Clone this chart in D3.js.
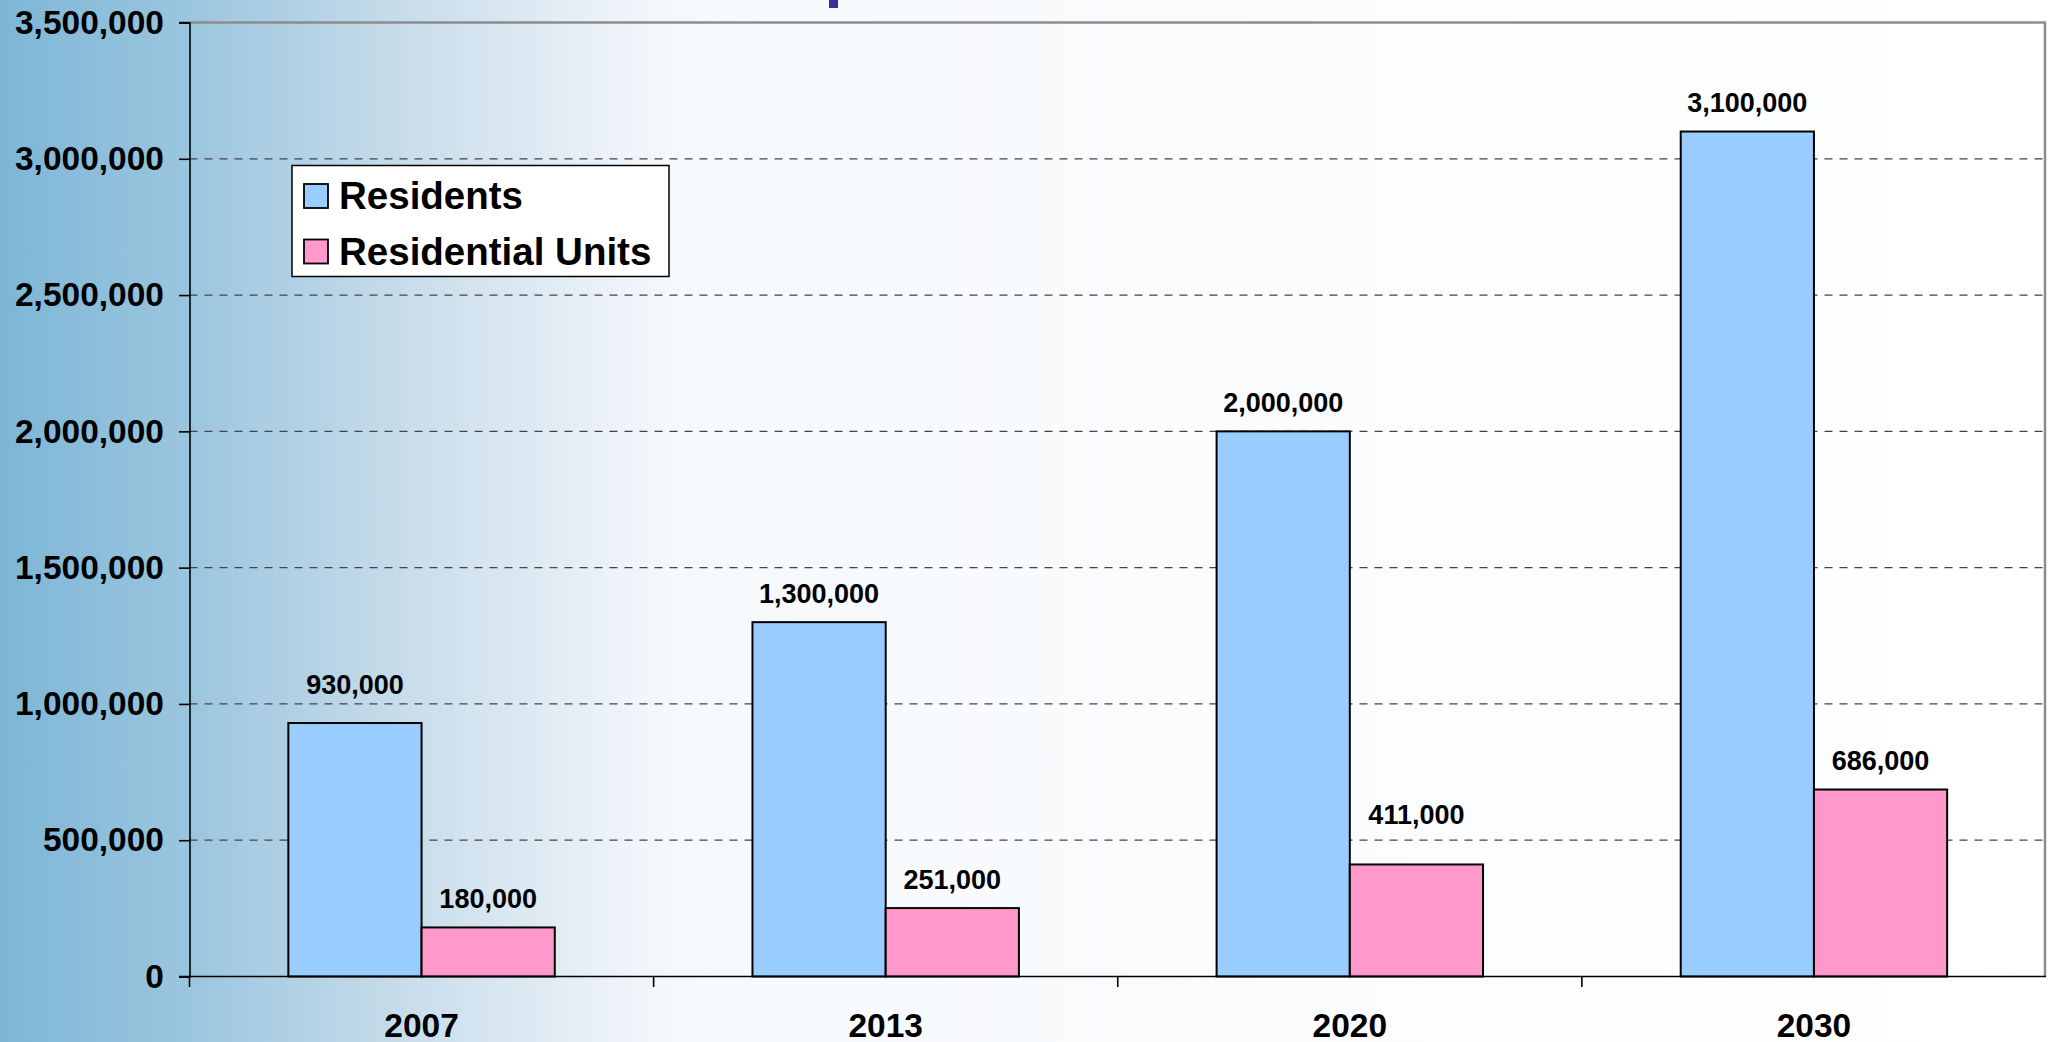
<!DOCTYPE html>
<html>
<head>
<meta charset="utf-8">
<script src="https://cdn.jsdelivr.net/npm/d3@7"></script>
<style>
  html, body { margin: 0; padding: 0; overflow: hidden; background: #fff; }
  svg { display: block; font-family: "Liberation Sans", Arial, sans-serif; font-weight: bold; }
</style>
</head>
<body>
<div id="chart"></div>
<script>
// chart data
const years = ['2007', '2013', '2020', '2030'];
const residents = [930000, 1300000, 2000000, 3100000];
const residentialUnits = [180000, 251000, 411000, 686000];
const seriesNames = ['Residents', 'Residential Units'];
const yTicks = [0, 500000, 1000000, 1500000, 2000000, 2500000, 3000000, 3500000];

const width = 2049;
const height = 1042;
const margin = { top: 22.5, right: 3, bottom: 65.5, left: 189.5 };
const colors = { 'Residents': '#99ccff', 'Residential Units': '#ff99cc' };

// a couple of value labels were dragged upward in the original
const labelLift = { 'Residents|2007': 10, 'Residential Units|2020': 21 };

const rows = years.map((year, i) => ({
    year,
    values: [
        { series: seriesNames[0], value: residents[i] },
        { series: seriesNames[1], value: residentialUnits[i] }
    ]
}));

const svg = d3.select('#chart').append('svg')
    .attr('width', width)
    .attr('height', height);

const defs = svg.append('defs');
const grad = defs.append('linearGradient')
    .attr('id', 'bg')
    .attr('x1', 0).attr('x2', 1).attr('y1', 0).attr('y2', 0);
grad.append('stop').attr('offset', '0%').attr('stop-color', '#7db6d6');
grad.append('stop').attr('offset', '9%').attr('stop-color', '#9ac5de');
grad.append('stop').attr('offset', '20%').attr('stop-color', '#c9ddeb');
grad.append('stop').attr('offset', '33%').attr('stop-color', '#f6f9fc');
grad.append('stop').attr('offset', '100%').attr('stop-color', '#ffffff');

svg.append('rect')
    .attr('width', width)
    .attr('height', height)
    .attr('fill', 'url(#bg)');

// cropped fragment of the slide title
svg.append('rect')
    .attr('x', 829).attr('y', 0)
    .attr('width', 9).attr('height', 8)
    .attr('fill', '#333399');

const plotW = width - margin.left - margin.right;
const plotH = height - margin.top - margin.bottom;

const g = svg.append('g').attr('transform', `translate(${margin.left},${margin.top})`);

const x0 = d3.scaleBand().domain(years).range([0, plotW]).padding(0);
const x1 = d3.scaleBand().domain(seriesNames).range([0, x0.bandwidth()])
    .paddingInner(0).paddingOuter(0.742);
const y = d3.scaleLinear().domain([0, 3500000]).range([plotH, 0]);

// gridlines
g.append('g')
    .selectAll('line')
    .data(yTicks.filter(t => t > 0 && t < 3500000))
    .join('line')
    .attr('x1', 0).attr('x2', plotW)
    .attr('y1', d => y(d)).attr('y2', d => y(d))
    .attr('stroke', '#444')
    .attr('stroke-width', 1.3)
    .attr('stroke-dasharray', '8,7');

// top & right frame
g.append('line')
    .attr('x1', -10).attr('x2', plotW)
    .attr('y1', 0).attr('y2', 0)
    .attr('stroke', '#8c8c8c').attr('stroke-width', 2.5);
g.append('line')
    .attr('x1', plotW - 1).attr('x2', plotW - 1)
    .attr('y1', 0).attr('y2', plotH)
    .attr('stroke', '#8c8c8c').attr('stroke-width', 2.5);

// bars
const groups = g.append('g')
    .selectAll('g')
    .data(rows)
    .join('g')
    .attr('transform', d => `translate(${x0(d.year)},0)`);

groups.selectAll('rect')
    .data(d => d.values)
    .join('rect')
    .attr('x', d => x1(d.series))
    .attr('y', d => y(d.value))
    .attr('width', x1.bandwidth())
    .attr('height', d => plotH - y(d.value))
    .attr('fill', d => colors[d.series])
    .attr('stroke', '#000')
    .attr('stroke-width', 2);

groups.selectAll('text')
    .data(d => d.values.map(v => ({ ...v, year: d.year })))
    .join('text')
    .attr('x', d => x1(d.series) + x1.bandwidth() / 2)
    .attr('y', d => y(d.value) - 19.5 - (labelLift[d.series + '|' + d.year] || 0))
    .attr('text-anchor', 'middle')
    .attr('font-size', 27)
    .attr('fill', '#000')
    .text(d => d3.format(',')(d.value));

// y axis
const yAxis = g.append('g')
    .call(d3.axisLeft(y).tickValues(yTicks).tickFormat(d3.format(',')).tickSize(10.5).tickPadding(15));
yAxis.select('.domain').attr('stroke', '#000').attr('stroke-width', 1.6);
yAxis.selectAll('.tick line').attr('stroke', '#000').attr('stroke-width', 1.6);
yAxis.selectAll('.tick text')
    .attr('font-size', 33.5)
    .attr('font-family', '"Liberation Sans", Arial, sans-serif')
    .attr('font-weight', 'bold')
    .attr('fill', '#000');

// x axis
const xAxis = g.append('g')
    .attr('transform', `translate(0,${plotH})`)
    .call(d3.axisBottom(x0).tickSize(0).tickPadding(0));
xAxis.select('.domain').remove();
xAxis.append('line')
    .attr('x1', -10.5).attr('x2', plotW)
    .attr('stroke', '#000').attr('stroke-width', 1.6);
xAxis.selectAll('.tick text')
    .attr('y', 60)
    .attr('dy', 0)
    .attr('font-size', 33.5)
    .attr('font-family', '"Liberation Sans", Arial, sans-serif')
    .attr('font-weight', 'bold')
    .attr('fill', '#000');
xAxis.append('g')
    .selectAll('line')
    .data(years)
    .join('line')
    .attr('x1', d => x0(d)).attr('x2', d => x0(d))
    .attr('y1', 0).attr('y2', 10.5)
    .attr('stroke', '#000').attr('stroke-width', 1.6);

// legend
const legend = svg.append('g').attr('transform', 'translate(292,165.5)');
legend.append('rect')
    .attr('width', 377).attr('height', 111)
    .attr('fill', '#fff')
    .attr('stroke', '#000').attr('stroke-width', 1.5);

const item = legend.selectAll('g.item')
    .data(seriesNames)
    .join('g')
    .attr('class', 'item')
    .attr('transform', (d, i) => `translate(0,${i * 55.5})`);

item.append('rect')
    .attr('x', 12).attr('y', 18.5)
    .attr('width', 24).attr('height', 24)
    .attr('fill', d => colors[d])
    .attr('stroke', '#000').attr('stroke-width', 1.8);

item.append('text')
    .attr('x', 47)
    .attr('y', 43.5)
    .attr('font-size', 38.5)
    .attr('fill', '#000')
    .text(d => d);
</script>
</body>
</html>
